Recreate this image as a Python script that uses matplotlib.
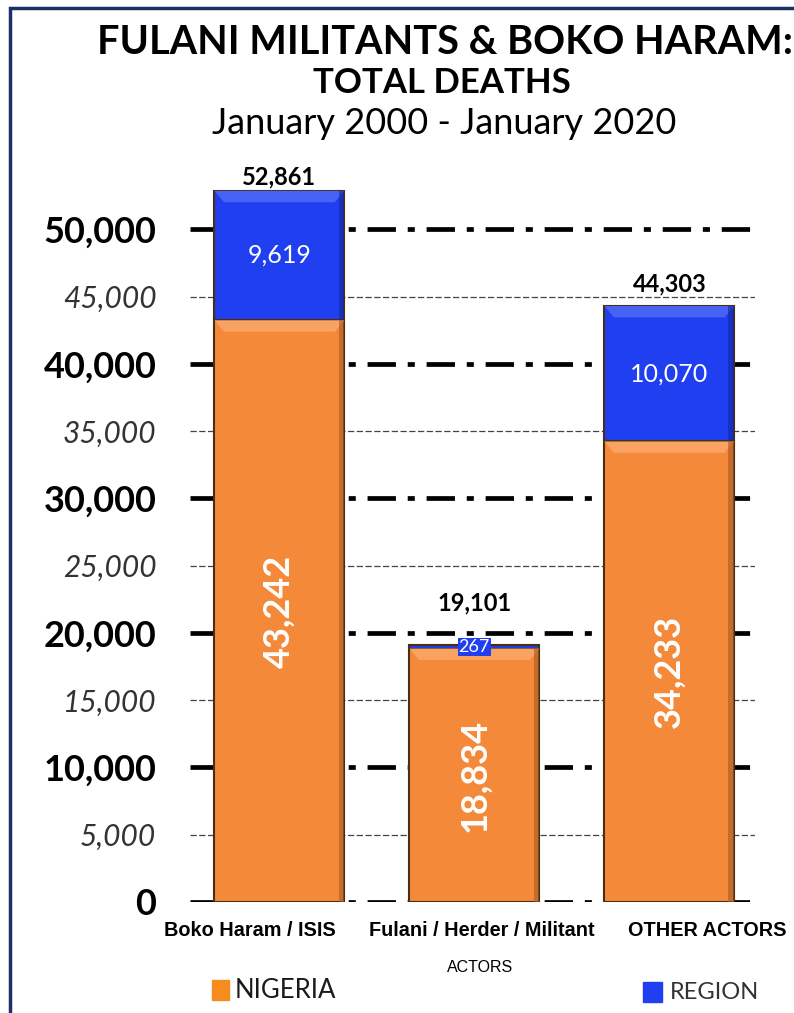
import matplotlib.pyplot as plt
import matplotlib.transforms as mtransforms
from matplotlib.patches import Rectangle, Polygon

# data
actors = ['Boko Haram / ISIS', 'Fulani / Herder / Militant', 'OTHER ACTORS']
nigeria = [43242, 18834, 34233]
region = [9619, 267, 10070]
totals = [52861, 19101, 44303]
major_ticks = [0, 10000, 20000, 30000, 40000, 50000]
minor_ticks = [5000, 15000, 25000, 35000, 45000]

orange = '#f5893a'
blue = '#1f3ff0'
edge = '#4a2e14'

# per-bar placement tweaks (points) to follow the original layout
total_offsets = [10, 30, 16]
label_shifts = [-21, 5, 27]

plt.rcParams['font.family'] = ['Lato', 'DejaVu Sans']

fig = plt.figure(figsize=(7.94, 10.13), dpi=100)
ax = fig.add_axes([0.239, 0.1096, 0.712, 0.7304])

x = [0, 1, 2]
width = 0.667

# gridlines behind bars
for t in major_ticks:
    ax.axhline(t, color='black', lw=3.4, dashes=(6, 2.5, 1.5, 2.5), zorder=0)
for t in minor_ticks:
    ax.axhline(t, color='#444444', lw=0.9, dashes=(5, 2), zorder=0)

ax.bar(x, nigeria, width, color=orange, edgecolor=edge, linewidth=1.5, zorder=2)
ax.bar(x, region, width, bottom=nigeria, color=blue, edgecolor=edge, linewidth=1.5, zorder=2)


# bevel look: light top band, darker right edge
def bevel(xc, bottom, top, light, dark):
    x0, x1 = xc - width / 2, xc + width / 2
    h = 850
    inset = 0.05
    ax.add_patch(Polygon([(x0, top), (x1, top), (x1 - inset, top - h), (x0 + inset, top - h)],
                         closed=True, color=light, lw=0, zorder=3))
    ax.add_patch(Rectangle((x1 - 0.03, bottom), 0.03, top - bottom, color=dark,
                           alpha=0.6, lw=0, zorder=3))


for xi, n, r in zip(x, nigeria, region):
    bevel(xi, 0, n, '#f9a261', '#a85a20')
    if r > 1500:
        bevel(xi, n, n + r, '#4763f5', '#1228a0')

# labels
for xi, n, r, t, off in zip(x, nigeria, region, totals, total_offsets):
    ax.annotate(f'{t:,}', (xi, t), xytext=(0, off), textcoords='offset points',
                ha='center', va='center', fontsize=17, fontweight='bold', color='black')
    ax.text(xi, n / 2, f'{n:,}', ha='center', va='center', rotation=90,
            fontsize=26, fontweight='bold', color='white', zorder=4)
    if r < 1000:
        ax.text(xi, n + r / 2, f'{r:,}', ha='center', va='center', fontsize=13,
                color='white', zorder=4,
                bbox=dict(boxstyle='square,pad=0.05', facecolor=blue, edgecolor='none'))
    else:
        ax.text(xi, n + r / 2, f'{r:,}', ha='center', va='center', fontsize=18,
                color='white', zorder=4)

ax.set_xlim(-0.46, 2.44)
ax.set_ylim(0, 55000)
for s in ax.spines.values():
    s.set_visible(False)

ax.set_yticks(major_ticks)
ax.set_yticklabels([f'{t:,}' for t in major_ticks], fontsize=26, fontweight='bold')
ax.set_yticks(minor_ticks, minor=True)
ax.set_yticklabels([f'{t:,}' for t in minor_ticks], minor=True, fontsize=21.5,
                   style='italic', color='#333333')
ax.tick_params(axis='y', which='both', length=0, pad=24)

ax.set_xticks(x)
ax.set_xticklabels(actors, fontsize=14.3, fontweight='bold',
                   family=['Liberation Sans', 'DejaVu Sans'])
ax.tick_params(axis='x', length=0, pad=14)
for lab, dx in zip(ax.get_xticklabels(), label_shifts):
    lab.set_transform(lab.get_transform() +
                      mtransforms.ScaledTranslation(dx / 72, 0, fig.dpi_scale_trans))

# titles
fig.text(0.56, 0.958, 'FULANI MILITANTS & BOKO HARAM:', ha='center', va='center',
         fontsize=28.5, fontweight='bold')
fig.text(0.556, 0.918, 'TOTAL DEATHS', ha='center', va='center', fontsize=25,
         fontweight='bold')
fig.text(0.56, 0.878, 'January 2000 - January 2020', ha='center', va='center',
         fontsize=26)

fig.text(0.605, 0.045, 'ACTORS', ha='center', va='center', fontsize=11.5,
         family=['Liberation Sans', 'DejaVu Sans'])

# legend
fig.patches.append(Rectangle((0.267, 0.0128), 0.0214, 0.0198, transform=fig.transFigure,
                             color='#f68c1e', figure=fig))
fig.text(0.296, 0.0225, 'NIGERIA', ha='left', va='center', fontsize=18.5, color='#1a1a1a')
fig.patches.append(Rectangle((0.81, 0.0108), 0.0235, 0.0198, transform=fig.transFigure,
                             color=blue, figure=fig))
fig.text(0.844, 0.0205, 'REGION', ha='left', va='center', fontsize=17, color='#333333')

# frame
fig.patches.append(Rectangle((0.0125, -0.1), 1.2, 1.092, transform=fig.transFigure,
                             fill=False, edgecolor='#1c2f66', lw=2.5, figure=fig))

fig.savefig('out.png', dpi=100)
